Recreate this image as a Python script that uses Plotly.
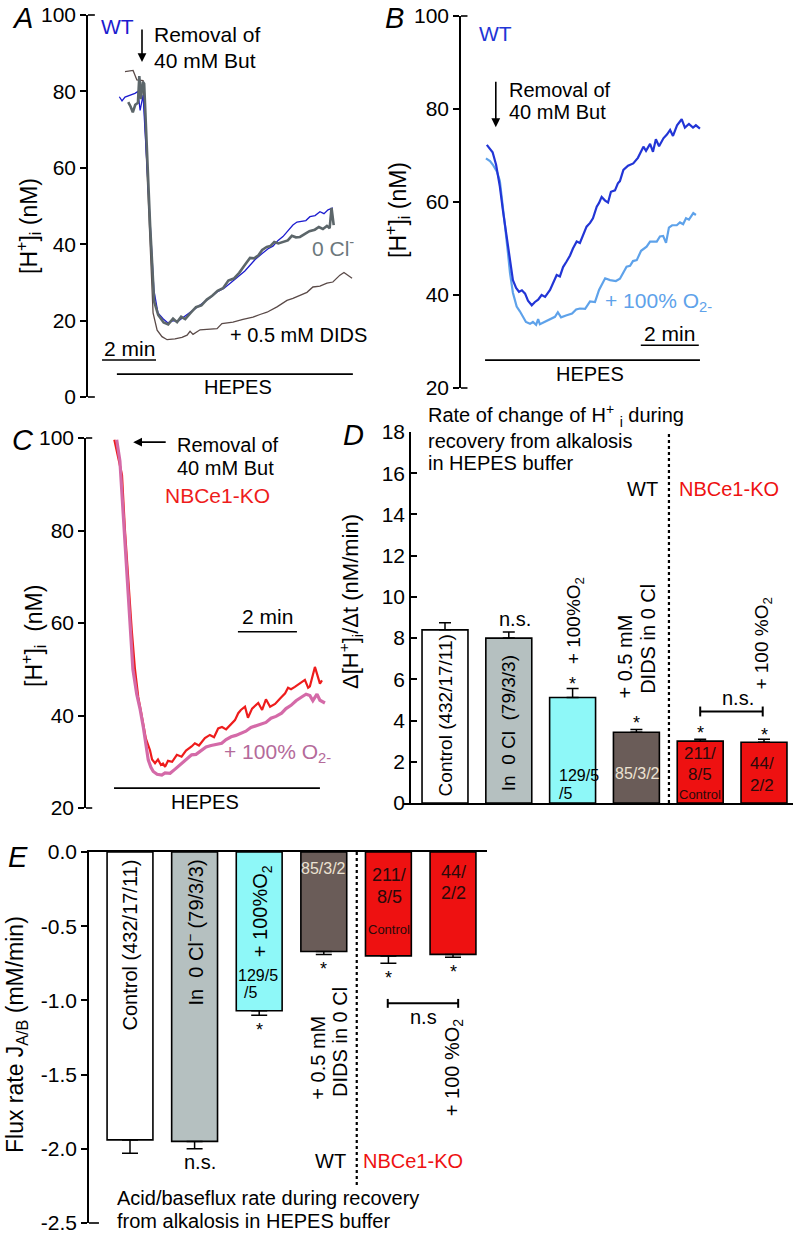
import plotly.graph_objects as go

# --- Panel A: [H+]i traces, WT (minutes, nM) ---
a_wt_t = [1.16, 1.26, 1.37, 1.56, 1.74, 1.85, 1.93, 2.04, 2.15, 2.30, 2.44, 2.59, 2.78, 2.96, 3.15, 3.33,
          3.56, 3.78, 4.0, 4.26, 4.52, 4.78, 5.04, 5.30, 5.56, 5.81, 6.0, 6.19, 6.44, 6.67, 6.85, 7.04,
          7.22, 7.41, 7.59, 7.74, 7.93, 8.07, 8.22, 8.41, 8.59, 8.74, 8.89, 9.07]
a_wt_v = [78.6, 77.5, 78.5, 79, 79.5, 80, 75, 79, 65, 45, 28, 22, 20.5, 19.4, 20, 19.8,
          21, 22, 23.2, 24.5, 26, 27.5, 28.5, 30, 31.5, 33, 34.5, 36, 37.5, 38.8, 39.5, 41,
          42, 43.5, 45, 45.8, 46, 46.2, 47.2, 47.5, 48.5, 48, 49, 49.5]
a_cl_t = [1.49, 1.58, 1.66, 1.75, 1.85, 1.90, 1.96, 2.03, 2.08, 2.15, 2.30, 2.45, 2.60, 2.80, 2.97, 3.15,
          3.30, 3.45, 3.60, 3.80, 4.0, 4.2, 4.4, 4.6, 4.8, 5.0, 5.2, 5.4, 5.6, 5.8, 6.0, 6.15,
          6.3, 6.45, 6.62, 6.75, 6.9, 7.05, 7.2, 7.4, 7.55, 7.7, 7.85, 8.0, 8.2, 8.4, 8.55, 8.7,
          8.85, 8.95, 9.02, 9.1]
a_cl_v = [77.2, 76, 74.5, 76.5, 77, 84, 78, 82.5, 82, 70, 45, 25, 21.5, 19.5, 19, 20.5,
          19.6, 21, 20.4, 22, 23.5, 24, 25.5, 26.5, 27.8, 28.5, 30.5, 31, 32.5, 34.5, 36.4, 36.3,
          37, 38.5, 39.3, 39.5, 40.6, 40.2, 40.6, 41, 42.2, 41.8, 41.9, 42.5, 43.4, 43.8, 44.5, 44,
          44.8, 44.2, 49.5, 45]
a_dids_t = [1.37, 1.67, 1.81, 2.04, 2.15, 2.30, 2.41, 2.56, 2.74, 2.93, 3.22, 3.48, 3.67, 3.78, 3.89, 4.15,
            4.52, 4.78, 4.96, 5.37, 5.74, 6.11, 6.37, 6.63, 7.0, 7.37, 7.59, 7.85, 8.11, 8.33, 8.59, 8.85,
            9.07, 9.33, 9.48, 9.78]
a_dids_v = [85.2, 85.5, 83.0, 82.8, 65, 40, 22, 17.5, 15.8, 15.0, 15.2, 15.6, 16.2, 17.2, 16.4, 17.6,
            17.7, 17.9, 19.2, 19.6, 20.3, 20.9, 21.6, 22.2, 23.6, 25.3, 25.8, 26.6, 27.4, 28.8, 29.0, 29.8,
            30.1, 31.9, 32.6, 31.1]

# --- Panel B: WT control vs +100% O2 ---
b_wt_t = [0.89, 1.09, 1.21, 1.34, 1.45, 1.58, 1.69, 1.79, 1.90, 2.0, 2.1, 2.21, 2.31, 2.44, 2.55, 2.66,
          2.78, 2.9, 3.07, 3.17, 3.3, 3.41, 3.52, 3.64, 3.76, 3.86, 3.99, 4.1, 4.21, 4.33, 4.45, 4.55,
          4.68, 4.76, 4.85, 4.97, 5.07, 5.17, 5.31, 5.41, 5.48, 5.6, 5.76, 5.94, 6.1, 6.29, 6.38, 6.52,
          6.62, 6.72, 6.83, 6.98, 7.1, 7.21, 7.31, 7.45, 7.61, 7.72, 7.86, 8.0, 8.1, 8.24]
b_wt_v = [72.3, 70.7, 68, 63.3, 58, 52.5, 47.5, 43.2, 41.5, 40.7, 41, 40.3, 38.8, 37.8, 38.5, 39,
          40, 39.6, 41.1, 42.5, 44.3, 44, 46, 47.2, 48.5, 50, 51.5, 51.2, 53, 54.7, 55.5, 56.5,
          59, 59.8, 61.1, 60.3, 59.9, 62.2, 62.5, 64, 64.5, 66.9, 67.8, 68.3, 69.5, 71.9, 71, 72.5,
          70.8, 73.5, 72, 73.7, 74.5, 75.5, 74.2, 76.5, 77.8, 76, 76.8, 76, 76.5, 75.8]
b_o2_t = [0.86, 1.0, 1.1, 1.24, 1.34, 1.45, 1.52, 1.62, 1.69, 1.79, 1.92, 2.03, 2.15, 2.24, 2.38, 2.48,
          2.59, 2.66, 2.72, 2.9, 3.07, 3.24, 3.34, 3.45, 3.62, 3.83, 3.97, 4.1, 4.28, 4.45, 4.62, 4.76,
          4.97, 5.14, 5.34, 5.48, 5.71, 5.83, 5.93, 6.06, 6.21, 6.4, 6.52, 6.75, 6.86, 6.97, 7.07, 7.17,
          7.28, 7.44, 7.55, 7.66, 7.76, 7.86, 8.01, 8.1]
b_o2_v = [69.4, 68.8, 68, 66.5, 64.5, 59, 54.7, 49, 44.7, 40.5, 37.5, 36.5, 35.3, 34.2, 33.8, 34.2,
          33.6, 34.8, 33.7, 34.2, 34.8, 35.3, 36.3, 35.2, 35.6, 36, 36.9, 37.1, 37, 38.6, 38.5, 41.1,
          43.6, 43.2, 43, 43.5, 46.1, 46.3, 47.3, 47.5, 49.5, 50.4, 51.5, 51.5, 52.6, 52.7, 51.2, 54.5,
          55, 55, 55.6, 55.2, 56.5, 56.2, 57.6, 57.2]

# --- Panel C: NBCe1-KO control vs +100% O2 ---
c_ko_t = [0.96, 1.05, 1.15, 1.22, 1.32, 1.42, 1.55, 1.66, 1.77, 1.86, 1.94, 2.03, 2.17, 2.24, 2.34, 2.44,
          2.54, 2.61, 2.68, 2.78, 2.92, 3.08, 3.24, 3.39, 3.58, 3.69, 3.83, 4.03, 4.2, 4.34, 4.48, 4.61,
          4.75, 4.94, 5.05, 5.16, 5.25, 5.39, 5.49, 5.63, 5.84, 5.97, 6.1, 6.24, 6.41, 6.58, 6.75, 6.85,
          6.95, 7.08, 7.25, 7.42, 7.53, 7.59, 7.76, 7.86, 7.93, 8.0]
c_ko_v = [99.6, 97, 93.8, 92, 80.1, 70, 58.5, 50, 44, 41, 38.3, 35, 32.5, 30.5, 29.7, 30.5,
          29.3, 29.6, 28.9, 30.2, 30, 31.5, 31.1, 32.4, 33.3, 34, 33.5, 35.1, 35.8, 35.3, 37.2, 37.5,
          37, 38.3, 39, 40.5, 41.2, 41.9, 39.5, 41.5, 42.7, 41.2, 43.5, 41.9, 42.5, 43.7, 44.8, 46,
          45.7, 46.2, 47, 47.7, 46, 46.3, 50.5, 48.5, 46.9, 47.6]
c_o2_t = [1.04, 1.1, 1.15, 1.26, 1.39, 1.49, 1.59, 1.72, 1.83, 1.94, 2.03, 2.11, 2.2, 2.28, 2.41, 2.57,
          2.68, 2.85, 3.02, 3.24, 3.39, 3.58, 3.73, 3.92, 4.07, 4.24, 4.41, 4.6, 4.75, 4.92, 5.08, 5.28,
          5.42, 5.59, 5.76, 5.96, 6.1, 6.27, 6.44, 6.63, 6.78, 6.95, 7.12, 7.31, 7.46, 7.59, 7.69, 7.83,
          7.93, 8.1]
c_o2_v = [99.6, 97, 95, 83.7, 70, 58, 50, 44.6, 41.5, 37.6, 33.5, 30.4, 28.8, 27.9, 27.3, 27.1,
          27.6, 27.5, 28.4, 29.7, 30.4, 31.5, 31.6, 32.5, 33.2, 33.5, 33.8, 34, 34.8, 35.4, 35.7, 36.2,
          36.6, 37.4, 37.8, 38.3, 38.5, 39.4, 39.8, 40.5, 41.5, 42.2, 43.2, 44, 44.6, 44.3, 43.2, 44.6,
          43.3, 42.7]

# --- Panels D / E: bar summaries ---
d_rate = [8.4, 8.0, 5.12, 3.43, 3.0, 2.95]
d_rate_err = [0.34, 0.3, 0.44, 0.14, 0.09, 0.14]
e_flux = [-1.94, -1.95, -1.07, -0.67, -0.70, -0.69]
e_flux_err = [0.09, 0.05, 0.03, 0.02, 0.05, 0.02]
bar_colors = ['white', '#b5c0c0', '#8ef8f8', '#6a5c58', '#ee1111', '#ee1111']

W, H = 797, 1235
FONT = 'Liberation Sans, Arial, sans-serif'


def px(x):
    return x / W


def py(y):
    return 1 - y / H


fig = go.Figure()

# traces
fig.add_trace(go.Scatter(x=a_dids_t, y=a_dids_v, mode='lines', line=dict(color='#5a4a48', width=1.3),
                         xaxis='x', yaxis='y'))
fig.add_trace(go.Scatter(x=a_wt_t, y=a_wt_v, mode='lines', line=dict(color='#1c1ccf', width=1.3),
                         xaxis='x', yaxis='y'))
fig.add_trace(go.Scatter(x=a_cl_t, y=a_cl_v, mode='lines', line=dict(color='#5c666a', width=2.6),
                         xaxis='x', yaxis='y'))
fig.add_trace(go.Scatter(x=b_o2_t, y=b_o2_v, mode='lines', line=dict(color='#5ea2ea', width=2.2),
                         xaxis='x2', yaxis='y2'))
fig.add_trace(go.Scatter(x=b_wt_t, y=b_wt_v, mode='lines', line=dict(color='#2235d6', width=2.2),
                         xaxis='x2', yaxis='y2'))
fig.add_trace(go.Scatter(x=c_ko_t, y=c_ko_v, mode='lines', line=dict(color='#ee1c1c', width=2.2),
                         xaxis='x3', yaxis='y3'))
fig.add_trace(go.Scatter(x=c_o2_t, y=c_o2_v, mode='lines', line=dict(color='#d46aa8', width=3.2),
                         xaxis='x3', yaxis='y3'))

idx = list(range(len(d_rate)))
fig.add_trace(go.Bar(x=idx, y=d_rate, width=0.72, marker=dict(color=bar_colors, line=dict(color='black', width=1.6)),
                     error_y=dict(type='data', symmetric=False, array=d_rate_err, arrayminus=[0] * 6,
                                  color='black', thickness=1.5, width=6),
                     xaxis='x4', yaxis='y4'))
fig.add_trace(go.Bar(x=idx, y=e_flux, width=0.71, marker=dict(color=bar_colors, line=dict(color='black', width=1.6)),
                     error_y=dict(type='data', symmetric=False, array=[0] * 6, arrayminus=e_flux_err,
                                  color='black', thickness=1.5, width=8),
                     xaxis='x5', yaxis='y5'))

yax = dict(showline=True, linecolor='black', linewidth=1.6, ticks='outside', ticklen=6, tickwidth=1.6,
           tickcolor='black', showgrid=False, zeroline=False, automargin=False,
           tickfont=dict(size=21, color='black'))
hidden = dict(visible=False, showgrid=False, zeroline=False, automargin=False)

fig.update_layout(
    width=W, height=H, margin=dict(l=0, r=0, t=0, b=0, pad=0, autoexpand=False),
    paper_bgcolor='white', plot_bgcolor='white', showlegend=False,
    font=dict(family=FONT, color='black'),
    xaxis=dict(domain=[px(88), px(362)], range=[0, (362 - 88) / 27], anchor='y', **hidden),
    yaxis=dict(domain=[py(397), py(15)], range=[0, 100], anchor='x', tickvals=[0, 20, 40, 60, 80, 100], **yax),
    xaxis2=dict(domain=[px(461), px(720)], range=[0, (720 - 461) / 29], anchor='y2', **hidden),
    yaxis2=dict(domain=[py(388), py(16)], range=[20, 100], anchor='x2', tickvals=[20, 40, 60, 80, 100], **yax),
    xaxis3=dict(domain=[px(86), px(335)], range=[0, (335 - 86) / 29.5], anchor='y3', **hidden),
    yaxis3=dict(domain=[py(808), py(438)], range=[20, 100], anchor='x3', tickvals=[20, 40, 60, 80, 100], **yax),
    xaxis4=dict(domain=[px(403), px(793)], range=[(403 - 445) / 63.8, (793 - 445) / 63.8], anchor='y4',
                showline=True, linecolor='black', linewidth=2, ticks='', showticklabels=False,
                showgrid=False, zeroline=False, automargin=False),
    yaxis4=dict(domain=[py(803), py(432)], range=[0, 18], anchor='free', position=px(410),
                tickvals=list(range(0, 19, 2)), **{**yax, 'ticks': 'inside'}),
    xaxis5=dict(domain=[px(89), px(487)], range=[(89 - 130) / 64.6, (487 - 130) / 64.6], anchor='y5',
                side='top', showline=True, linecolor='black', linewidth=2, ticks='', showticklabels=False,
                showgrid=False, zeroline=False, automargin=False),
    yaxis5=dict(domain=[py(1223), py(852)], range=[-2.5, 0], anchor='x5',
                tickvals=[0, -0.5, -1, -1.5, -2, -2.5], ticktext=['0.0', '-0.5', '-1.0', '-1.5', '-2.0', '-2.5'],
                **yax),
)

ann = []


def note(text, x, y, ref='paper', size=20, color='black', angle=0, xanchor='center', yanchor='middle'):
    xr, yr = ('paper', 'paper') if ref == 'paper' else ('x' + ref, 'y' + ref)
    if ref == '1':
        xr, yr = 'x', 'y'
    if ref == 'paper':
        x, y = px(x), py(y)
    ann.append(dict(text=text, x=x, y=y, xref=xr, yref=yr, showarrow=False, textangle=angle,
                    xanchor=xanchor, yanchor=yanchor, font=dict(size=size, color=color, family=FONT)))


def arrow(x, y, ref, ax, ay):
    xr, yr = ('x', 'y') if ref == '1' else ('x' + ref, 'y' + ref)
    ann.append(dict(text='', x=x, y=y, xref=xr, yref=yr, showarrow=True, ax=ax, ay=ay,
                    arrowhead=2, arrowsize=1.1, arrowwidth=1.6, arrowcolor='black'))


shapes = []


def seg(x0, y0, x1, y1, ref, width=1.6, dash='solid', xref=None, yref=None):
    xr, yr = ('x', 'y') if ref == '1' else ('x' + ref, 'y' + ref)
    shapes.append(dict(type='line', x0=x0, y0=y0, x1=x1, y1=y1, xref=xref or xr, yref=yref or yr,
                       line=dict(color='black', width=width, dash=dash)))


# axis end caps (bracket style)
for r, ends in (('1', (0, 1)), ('2', (0, 1)), ('3', (0, 1)), ('5', (0,))):
    xd = 'x domain' if r == '1' else 'x%s domain' % r
    yd = 'y domain' if r == '1' else 'y%s domain' % r
    for e in ends:
        seg(0, e, 0.025, e, r, xref=xd, yref=yd)

# panel letters
for lab, x, y in (('A', 22, 18), ('B', 394, 18), ('C', 23, 440), ('D', 353, 435), ('E', 18, 857)):
    note('<i>%s</i>' % lab, x, y, size=29)

# y-axis titles
note('[H<sup>+</sup>]<sub>i</sub> (nM)', 28, 226, size=23, angle=-90)
note('[H<sup>+</sup>]<sub>i</sub> (nM)', 397, 210, size=23, angle=-90)
note('[H<sup>+</sup>]<sub>i</sub>  (nM)', 33, 636, size=23, angle=-90)
note('Δ[H<sup>+</sup>]<sub>i</sub>/Δt (nM/min)', 350, 602, size=22, angle=-90)
note('Flux rate J<sub>A/B</sub> (mM/min)', 16, 1035, size=23, angle=-90)

# panel A annotations
note('WT', 1.1, 96.9, '1', size=21, color='#1c1ccf')
arrow(2.0, 87.7, '1', 0, -34)
note('Removal of', 2.37, 94.8, '1', size=21, xanchor='left')
note('40 mM But', 2.37, 88.2, '1', size=21, xanchor='left')
note('0 Cl<sup>-</sup>', 8.22, 39.3, '1', size=21, color='#6c787c', xanchor='left')
note('+ 0.5 mM DIDS', 5.19, 16.2, '1', size=20, xanchor='left')
seg(0.52, 9.7, 2.52, 9.7, '1')
note('2 min', 1.52, 12.8, '1', size=21)
seg(1.07, 6.0, 9.81, 6.0, '1')
note('HEPES', 5.56, 2.6, '1', size=20)

# panel B annotations
note('WT', 0.55, 96.3, '2', size=21, color='#2235d6', xanchor='left')
arrow(1.2, 76.1, '2', 0, -47)
note('Removal of', 1.59, 84.1, '2', size=20, xanchor='left')
note('40 mM But', 1.59, 79.4, '2', size=20, xanchor='left')
note('+ 100% O<sub>2-</sub>', 4.9, 38.5, '2', size=21, color='#5ea2ea', xanchor='left')
seg(6.2, 29.2, 8.2, 29.2, '2')
note('2 min', 7.2, 31.8, '2', size=21)
seg(0.83, 26.0, 8.24, 26.0, '2')
note('HEPES', 4.45, 23.0, '2', size=20)

# panel C annotations
arrow(1.6, 99.1, '3', 34, 0)
note('Removal of', 3.02, 98.5, '3', size=20, xanchor='left')
note('40 mM But', 6.44, 93.5, '3', size=20, xanchor='right')
note('NBCe1-KO', 2.61, 87.5, '3', size=21, color='#ee1c1c', xanchor='left')
note('+ 100% O<sub>2-</sub>', 4.61, 31.9, '3', size=21, color='#b46a9a', xanchor='left')
seg(5.15, 58.1, 7.15, 58.1, '3')
note('2 min', 6.15, 61.3, '3', size=21)
seg(0.95, 24.3, 7.93, 24.3, '3')
note('HEPES', 4.03, 21.3, '3', size=20)

# panel D annotations
note('Rate of change of H<sup>+</sup> <sub>i</sub> during', 426, 416, size=20, xanchor='left')
note('recovery from alkalosis', 426, 441, size=20, xanchor='left')
note('in HEPES buffer', 426, 463, size=20, xanchor='left')
seg(3.51, 0, 3.51, 1, '4', width=2.2, dash='dot', yref='y4 domain')
note('WT', 3.37, 15.25, '4', size=20, xanchor='right')
note('NBCe1-KO', 3.64, 15.25, '4', size=20, color='#ee1111', xanchor='left')
note('Control (432/17/11)', 0, 4.25, '4', size=19, angle=-90)
note('In  0 Cl  (79/3/3)', 1.0, 3.86, '4', size=19, angle=-90)
note('n.s.', 1.1, 8.93, '4', size=20)
note('+ 100%O<sub>2</sub>', 2.04, 8.83, '4', size=19, angle=-90)
note('*', 2.0, 5.75, '4', size=18)
note('129/5', 1.76, 1.35, '4', size=16, xanchor='left')
note('/5', 1.76, 0.48, '4', size=16, xanchor='left')
note('+ 0.5 mM', 2.82, 7.1, '4', size=20, angle=-90)
note('DIDS in 0 Cl', 3.18, 7.96, '4', size=20, angle=-90)
note('*', 3.0, 3.87, '4', size=18)
note('85/3/2', 3.02, 1.45, '4', size=16, color='#ece2d2')
note('*', 4.0, 3.39, '4', size=18)
note('211/', 3.99, 2.41, '4', size=17, color='#2a0a0a')
note('8/5', 3.99, 1.40, '4', size=17, color='#2a0a0a')
note('Control', 3.99, 0.39, '4', size=13, color='#2a0a0a')
note('*', 5.0, 3.29, '4', size=18)
note('44/', 4.97, 1.93, '4', size=17, color='#2a0a0a')
note('2/2', 4.97, 0.87, '4', size=17, color='#2a0a0a')
note('+ 100 %O<sub>2</sub>', 4.98, 7.72, '4', size=19, angle=-90)
seg(4.0, 4.44, 4.98, 4.44, '4', width=2)
seg(4.0, 4.2, 4.0, 4.68, '4', width=2)
seg(4.98, 4.2, 4.98, 4.68, '4', width=2)
note('n.s.', 4.59, 5.07, '4', size=20)

# panel E annotations
seg(3.51, 0, 3.51, -2.25, '5', width=2.2, dash='dot')
note('Control (432/17/11)', 0, -0.63, '5', size=20, angle=-90)
note('In  0 Cl<sup>−</sup> (79/3/3)', 1.0, -0.545, '5', size=20, angle=-90)
note('n.s.', 1.08, -2.09, '5', size=20)
note('+ 100%O<sub>2</sub>', 2.04, -0.40, '5', size=20, angle=-90)
note('129/5', 1.98, -0.83, '5', size=16)
note('/5', 1.73, -0.95, '5', size=16, xanchor='left')
note('*', 2.0, -1.20, '5', size=18)
note('85/3/2', 2.99, -0.108, '5', size=16, color='#ece2d2')
note('*', 3.0, -0.79, '5', size=18)
note('+ 0.5 mM', 2.91, -1.386, '5', size=20, angle=-90)
note('DIDS in 0 Cl', 3.25, -1.28, '5', size=20, angle=-90)
note('211/', 4.01, -0.155, '5', size=18, color='#2a0a0a')
note('8/5', 4.01, -0.30, '5', size=18, color='#2a0a0a')
note('Control', 4.01, -0.525, '5', size=13, color='#2a0a0a')
note('*', 4.0, -0.85, '5', size=18)
note('44/', 5.0, -0.135, '5', size=18, color='#2a0a0a')
note('2/2', 5.0, -0.276, '5', size=18, color='#2a0a0a')
note('*', 5.0, -0.81, '5', size=18)
seg(3.99, -1.02, 5.08, -1.02, '5', width=2)
seg(3.99, -0.99, 3.99, -1.05, '5', width=2)
seg(5.08, -0.99, 5.08, -1.05, '5', width=2)
note('n.s', 4.54, -1.11, '5', size=20)
note('+ 100 %O<sub>2</sub>', 5.0, -1.45, '5', size=20, angle=-90)
note('WT', 3.1, -2.08, '5', size=20)
note('NBCe1-KO', 4.38, -2.08, '5', size=20, color='#ee1111')
note('Acid/baseflux rate during recovery', 115, 1198, size=20, xanchor='left')
note('from alkalosis in HEPES buffer', 115, 1221, size=20, xanchor='left')

fig.update_layout(annotations=ann, shapes=shapes)
# the page body's default 8px margin would push the figure off the 797x1235 window
fig.write_html('out.html', config={'displayModeBar': False},
               post_script="document.body.style.margin = '0px';")
